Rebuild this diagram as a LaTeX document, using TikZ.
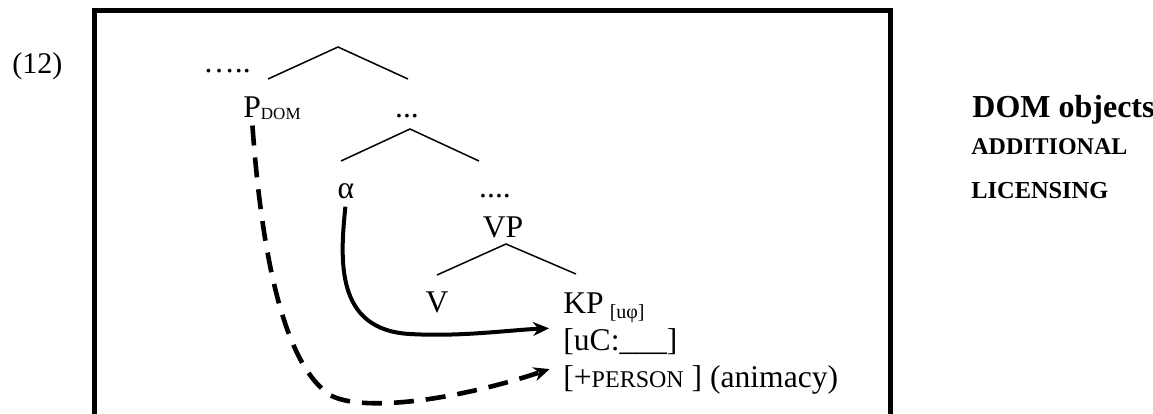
\documentclass[tikz,border=0pt]{standalone}
\usepackage{fontspec}
\setmainfont{Liberation Serif}
\usepackage{tikz}
\usetikzlibrary{arrows.meta}
\usetikzlibrary{calc}
\newcommand{\treesize}{\fontsize{15.8}{18}\selectfont}
\newcommand{\smallcaps}[1]{{\fontsize{12}{13}\selectfont #1}}

\begin{document}
\begin{tikzpicture}[x=0.5pt,y=-0.5pt,
  lbl/.style={anchor=base,inner sep=1pt,font=\treesize},
  lblw/.style={lbl,anchor=base west},
  side/.style={anchor=base west,inner sep=0pt,font=\bfseries},
  branch/.style={line width=0.75pt},
  move/.style={line width=2pt,shorten <=3pt,shorten >=7pt,-{Stealth[length=8pt,width=7pt]}}]
\useasboundingbox (0,0) rectangle (1153,413);
\clip (0,0) rectangle (1153,413);
% frame, open at the bottom
\draw[line width=2.5pt] (94.5,10.5) rectangle (890,470);
\node[lblw,inner sep=0pt,font=\fontsize{15}{18}\selectfont] (ex) at (12,73) {(12)};
% tree
\coordinate (top) at (338,47);
\coordinate (topl) at (268,79);
\coordinate (topr) at (408,79);
\coordinate (mid) at (410,129);
\coordinate (midl) at (341,161);
\coordinate (midr) at (479,161);
\coordinate (low) at (506,244);
\coordinate (lowl) at (437,275);
\coordinate (lowr) at (576,274);
\draw[branch] (topl) -- (top) -- (topr);
\draw[branch] (midl) -- (mid) -- (midr);
\draw[branch] (lowl) -- (low) -- (lowr);
\node[lbl] (dots) at (227,72) {…..};
\node[lblw,inner sep=0pt] (pdom) at (243,117) {P\raisebox{-1pt}{\fontsize{8.5}{9}\selectfont DOM}};
\node[lbl] (rdots) at (407,117) {...};
\node[lbl] (alpha) at (346,198) {α};
\node[lbl] (vdots) at (495,197) {....};
\node[lbl] (vp) at (503,237) {VP};
\node[lbl] (v) at (437,312) {V};
\node[lblw,inner sep=0pt] (kp) at (563,313) {KP\hspace{3pt}\raisebox{-2.5pt}{\fontsize{10}{11}\selectfont[uφ]}};
\node[lblw,inner sep=0pt] (uc) at (563,350) {[uC:\_\_\_]};
\node[lblw,inner sep=0pt] (pers) at (563,387) {[+\smallcaps{PERSON} ] (animacy)};
% movement
\draw[move] (alpha.south) .. controls (340,260) and (335,330) .. (410,334)
  .. controls (460,337) and (510,330) .. (uc.north west);
\draw[move,dash pattern=on 10pt off 6pt,line width=2.3pt] ([xshift=-10pt]pdom.south)
  .. controls (262,260) and (285,365) .. (330,395)
  .. controls (360,412) and (450,402) .. (pers.north west);
% side note
\node[side,font=\fontsize{16}{19}\selectfont\bfseries] (dom) at (972,117) {DOM objects};
\node[side,font=\fontsize{12}{14}\selectfont\bfseries] (add) at (971,154) {ADDITIONAL};
\node[side,font=\fontsize{12.2}{14}\selectfont\bfseries] (lic) at (971,198) {LICENSING};
\end{tikzpicture}
\end{document}
